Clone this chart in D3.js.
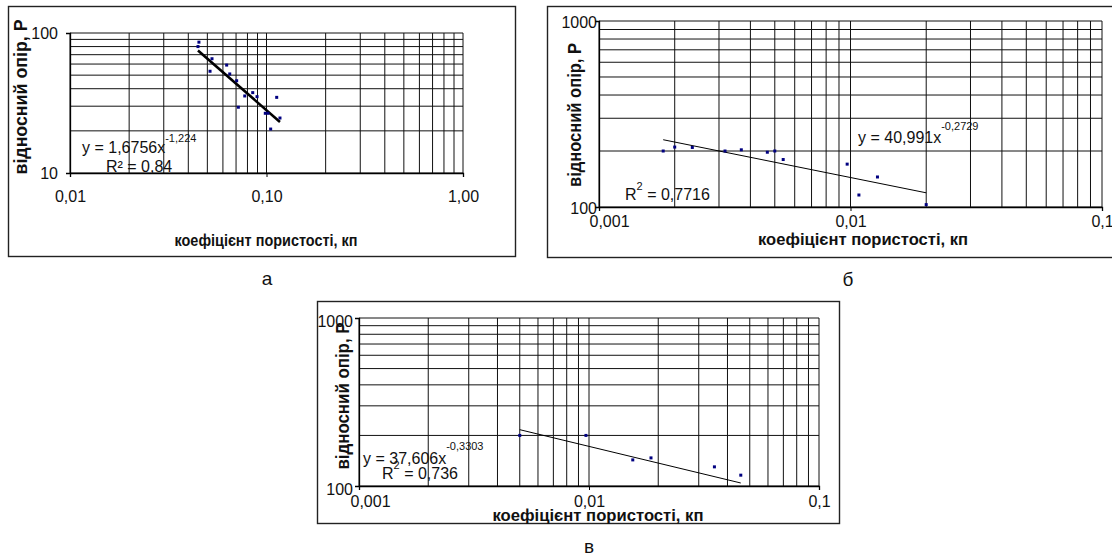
<!DOCTYPE html>
<html lang="uk">
<head>
<meta charset="utf-8">
<title>Відносний опір – коефіцієнт пористості</title>
<script src="https://d3js.org/d3.v7.min.js"></script>
<style>
  body { margin: 0; background: #fff; }
  svg { display: block; font-family: "Liberation Sans", Arial, sans-serif; }
</style>
</head>
<body>
<svg width="1112" height="557"></svg>
<script>
// ---- panel а ----
const kpA = [0.0453, 0.0448, 0.0528, 0.0516, 0.0627, 0.0650, 0.0705, 0.0719, 0.0775, 0.0851, 0.0895, 0.0986, 0.1018, 0.1050, 0.1127, 0.1171];
const pA  = [86, 80, 65.5, 53.3, 59, 51, 45.6, 29.5, 35.5, 37.5, 35.1, 26.7, 26.7, 20.6, 34.7, 24.7];
const xTicksA = ["0,01", "0,10", "1,00"];
const yTicksA = ["10", "100"];
const trendA = [1.6756, -1.224];

// ---- panel б ----
const kpB = [0.0018, 0.0020, 0.00235, 0.00317, 0.00368, 0.00467, 0.0050, 0.0054, 0.0097, 0.0108, 0.0128, 0.0200];
const pB  = [200, 210, 209, 200, 203, 197, 200, 180, 170, 116, 145, 103];
const xTicksB = ["0,001", "0,01", "0,1"];
const yTicksB = ["100", "1000"];
const trendB = [40.991, -0.2729];

// ---- panel в ----
const kpV = [0.0050, 0.0097, 0.0155, 0.0186, 0.0351, 0.0457];
const pV  = [200, 200, 143, 147, 130, 116];
const xTicksV = ["0,001", "0,01", "0,1"];
const yTicksV = ["100", "1000"];
const trendV = [37.606, -0.3303];

const svg = d3.select("svg");

function panel(o) {
  const g = svg.append("g");
  const [bx0, by0, bx1, by1] = o.box;
  g.append("rect")
    .attr("x", bx0 + 0.5).attr("y", by0 + 0.5)
    .attr("width", bx1 - bx0).attr("height", by1 - by0)
    .attr("fill", "#fff").attr("stroke", "#222").attr("stroke-width", 1.4);

  const x = d3.scaleLog().domain(o.xDomain).range([o.left, o.right]);
  const y = d3.scaleLog().domain(o.yDomain).range([o.bottom, o.top]);

  // major + minor gridlines
  g.append("g").selectAll("line").data(x.ticks())
    .join("line")
    .attr("x1", d => x(d)).attr("x2", d => x(d))
    .attr("y1", o.top).attr("y2", o.bottom)
    .attr("stroke", "#111").attr("stroke-width", 1);
  g.append("g").selectAll("line").data(y.ticks())
    .join("line")
    .attr("x1", o.left).attr("x2", o.right)
    .attr("y1", d => y(d)).attr("y2", d => y(d))
    .attr("stroke", "#111").attr("stroke-width", 1);

  // axes (labels only at decades)
  const decades = x.ticks().filter(d => Math.abs(Math.log10(d) - Math.round(Math.log10(d))) < 1e-9);
  const ax = g.append("g").attr("transform", `translate(0,${o.bottom})`)
    .call(d3.axisBottom(x).tickValues(decades).tickSize(4).tickFormat((d, i) => o.xLabels[i]));
  const ay = g.append("g").attr("transform", `translate(${o.left},0)`)
    .call(d3.axisLeft(y).tickValues(o.yDomain).tickSize(4).tickFormat((d, i) => o.yLabels[i]));
  [ax, ay].forEach(a => {
    a.select(".domain").attr("stroke", "#000").attr("stroke-width", 1.3);
    a.selectAll(".tick line").attr("stroke", "#000");
    a.selectAll("text").attr("fill", "#111").style("font-size", "16px")
      .style("font-family", "'Liberation Sans', Arial, sans-serif");
  });
  ax.selectAll("text").attr("dy", null).attr("y", o.xLabelY - o.bottom)
    .attr("dx", (d, i) => i === 0 ? o.firstShift : 0);
  ay.selectAll("text").attr("dy", "0.35em").attr("x", o.yLabelDx)
    .attr("transform", `translate(0,${o.yLabelDy})`);

  // power trendline
  const [c, p] = o.trend;
  const ext = d3.extent(o.kp);
  g.append("path")
    .datum(ext.map(k => [k, c * Math.pow(k, p)]))
    .attr("d", d3.line().x(d => x(d[0])).y(d => y(d[1])))
    .attr("fill", "none").attr("stroke", "#000").attr("stroke-width", o.trendWidth);

  // data points
  g.append("g").selectAll("rect").data(o.kp.map((k, i) => [k, o.p[i]]))
    .join("rect")
    .attr("x", d => x(d[0]) - 1.5).attr("y", d => y(d[1]) - 1.5)
    .attr("width", 3).attr("height", 3)
    .attr("fill", "#000080");

  // equation and R²
  const eq = g.append("text").attr("x", o.eqPos[0]).attr("y", o.eqPos[1])
    .style("font-size", "16px").attr("fill", "#111");
  eq.append("tspan").text(o.eqText);
  eq.append("tspan").attr("dy", o.expDy).style("font-size", "11px").text(o.eqExp);

  const r2 = g.append("text").attr("x", o.r2Pos[0]).attr("y", o.r2Pos[1])
    .style("font-size", "16px").attr("fill", "#111");
  if (o.r2Sup) {
    r2.append("tspan").text("R");
    r2.append("tspan").attr("dy", -10).style("font-size", "11px").text("2");
    r2.append("tspan").attr("dy", 10).text(" = " + o.r2);
  } else {
    r2.text("R\u00B2 = " + o.r2);
  }

  // axis titles
  g.append("text")
    .attr("transform", `translate(${o.yTitle[0]},${o.yTitle[1]}) rotate(-90)`)
    .attr("text-anchor", "middle").attr("dy", "0.35em")
    .attr("textLength", o.yTitle[2]).attr("lengthAdjust", "spacingAndGlyphs")
    .style("font-size", "18px").style("font-weight", "bold").attr("fill", "#111")
    .text("відносний опір, Р");
  g.append("text")
    .attr("x", o.xTitle[0]).attr("y", o.xTitle[1]).attr("text-anchor", "middle")
    .attr("textLength", o.xTitle[2]).attr("lengthAdjust", "spacingAndGlyphs")
    .style("font-size", o.xTitleFont + "px").style("font-weight", "bold").attr("fill", "#111")
    .text("коефіцієнт пористості, кп");

  // panel caption
  svg.append("text").attr("x", o.caption[0]).attr("y", o.caption[1])
    .attr("text-anchor", "middle").style("font-size", "19px").attr("fill", "#111")
    .text(o.captionText);
}

panel({
  box: [8, 6, 515, 256],
  left: 70, right: 463, top: 33, bottom: 173,
  xDomain: [0.01, 1], yDomain: [10, 100],
  xLabels: xTicksA, yLabels: yTicksA, xLabelY: 202, firstShift: 0,
  yLabelDx: -12, yLabelDy: 0,
  kp: kpA, p: pA, trend: trendA, trendWidth: 2.6,
  eqText: "y = 1,6756x", eqExp: "-1,224", eqPos: [82, 153], expDy: -11,
  r2: "0,84", r2Sup: false, r2Pos: [106, 172],
  yTitle: [21, 97, 155], xTitle: [266, 246, 183], xTitleFont: 16,
  caption: [267, 285], captionText: "а"
});

panel({
  box: [547, 6, 1113, 257],
  left: 599, right: 1102, top: 21, bottom: 207,
  xDomain: [0.001, 0.1], yDomain: [100, 1000],
  xLabels: xTicksB, yLabels: yTicksB, xLabelY: 227, firstShift: 10,
  yLabelDx: -2, yLabelDy: 1,
  kp: kpB, p: pB, trend: trendB, trendWidth: 1,
  eqText: "y = 40,991x", eqExp: "-0,2729", eqPos: [858, 143], expDy: -13,
  r2: "0,7716", r2Sup: true, r2Pos: [625, 200],
  yTitle: [575, 115, 144], xTitle: [863, 245, 210], xTitleFont: 16.5,
  caption: [848, 286], captionText: "б"
});

panel({
  box: [317, 301, 839, 523],
  left: 359, right: 819, top: 318, bottom: 486,
  xDomain: [0.001, 0.1], yDomain: [100, 1000],
  xLabels: xTicksV, yLabels: yTicksV, xLabelY: 507, firstShift: 11,
  yLabelDx: -6, yLabelDy: 3,
  kp: kpV, p: pV, trend: trendV, trendWidth: 1,
  eqText: "y = 37,606x", eqExp: "-0,3303", eqPos: [363, 464], expDy: -14,
  r2: "0,736", r2Sup: true, r2Pos: [382, 479],
  yTitle: [343, 396, 147], xTitle: [598, 521, 211], xTitleFont: 16,
  caption: [589, 553], captionText: "в"
});
</script>
</body>
</html>
